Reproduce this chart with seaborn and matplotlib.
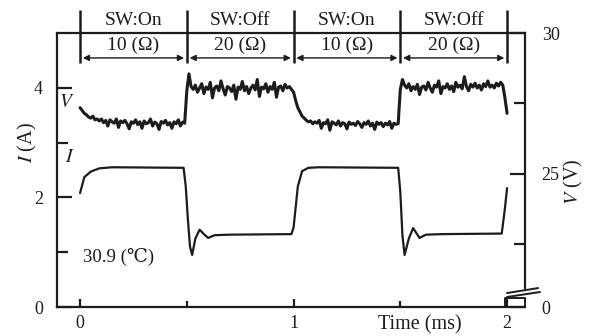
import numpy as np
import pandas as pd
import matplotlib
matplotlib.use('Agg')
import matplotlib.pyplot as plt
import seaborn as sns

# current waveform I (A)
i_time = [0.00, 0.02, 0.05, 0.09, 0.15, 0.485, 0.495, 0.505, 0.515, 0.525,
          0.54, 0.56, 0.58, 0.60, 0.63, 0.70, 0.99, 1.00, 1.02, 1.04, 1.07,
          1.12, 1.49, 1.50, 1.51, 1.52, 1.54, 1.56, 1.58, 1.59, 1.62, 1.70,
          1.975, 1.99, 2.00]
i_amp = [2.08, 2.37, 2.47, 2.53, 2.55, 2.54, 2.20, 1.60, 1.10, 0.95,
         1.25, 1.41, 1.33, 1.26, 1.31, 1.32, 1.33, 1.45, 2.20, 2.48, 2.54,
         2.55, 2.54, 2.10, 1.30, 0.95, 1.25, 1.44, 1.32, 1.26, 1.32, 1.33,
         1.34, 1.80, 2.17]

# voltage waveform V (V), sampled every 0.01 ms
v_time = np.linspace(0, 2, 201)
v_volt = [
    27.35, 27.25, 27.15, 27.10, 27.02, 26.98, 27.05, 26.92, 26.95, 26.88,
    26.95, 26.82, 26.90, 26.70, 26.92, 26.85, 26.80, 26.95, 26.65, 26.88,
    26.82, 26.90, 26.78, 26.60, 26.85, 26.80, 26.92, 26.75, 26.85, 26.62,
    26.88, 26.78, 26.82, 26.95, 26.70, 26.84, 26.78, 26.58, 26.86, 26.80,
    26.90, 26.74, 26.82, 26.62, 26.85, 26.78, 26.92, 26.70, 26.84, 26.80,
    27.95, 28.55, 28.10, 28.00, 28.15, 27.90, 28.05, 28.20, 27.85, 28.08,
    28.00, 28.25, 27.70, 28.05, 28.12, 27.95, 28.30, 28.02, 27.80, 28.10,
    28.05, 27.92, 28.15, 27.65, 28.08, 28.00, 28.28, 27.95, 28.10, 27.85,
    28.05, 28.15, 27.98, 28.35, 27.75, 28.08, 28.02, 28.20, 27.90, 28.10,
    28.00, 28.25, 27.72, 28.08, 28.12, 27.95, 28.18, 28.05, 28.10, 28.00,
    27.90, 27.60, 27.35, 27.20, 27.05, 26.98, 26.90, 26.85, 26.88, 26.78,
    26.85, 26.80, 26.90, 26.62, 26.82, 26.78, 26.92, 26.55, 26.85, 26.80,
    26.74, 26.88, 26.70, 26.82, 26.78, 26.60, 26.84, 26.76, 26.80, 26.72,
    26.86, 26.78, 26.65, 26.82, 26.76, 26.88, 26.70, 26.80, 26.58, 26.84,
    26.76, 26.82, 26.68, 26.80, 26.74, 26.86, 26.62, 26.80, 26.76, 26.78,
    28.00, 28.35, 28.15, 28.05, 28.20, 27.95, 28.10, 28.00, 28.18, 27.82,
    28.08, 28.12, 27.98, 28.25, 28.05, 27.90, 28.15, 28.08, 28.30, 27.85,
    28.10, 28.05, 28.20, 28.00, 28.12, 27.92, 28.25, 28.08, 28.15, 28.02,
    28.45, 28.10, 27.95, 28.18, 28.08, 28.22, 28.05, 28.15, 27.98, 28.20,
    28.10, 28.30, 28.08, 28.15, 28.05, 28.22, 28.12, 28.25, 28.15, 27.70,
    27.15]

# switching segments along the top
seg_bounds = [0.0, 0.5, 1.0, 1.5, 2.0]
seg_switch = ['SW:On', 'SW:Off', 'SW:On', 'SW:Off']
seg_load = ['10 (Ω)', '20 (Ω)', '10 (Ω)', '20 (Ω)']

i_ticks = [0, 2, 4]
v_ticks = [20.28, 25, 30]
v_ticklabels = ['0', '25', '30']

ink = '#1c1c1c'

sns.set_style('ticks')
plt.rcParams['font.family'] = ['Liberation Serif', 'DejaVu Serif', 'DejaVu Sans']
plt.rcParams['mathtext.fontset'] = 'stix'

fig = plt.figure(figsize=(5.89, 3.36), dpi=100)
ax = fig.add_axes([57 / 589, 29 / 336, 468 / 589, 274 / 336])
axv = ax.twinx()

sns.lineplot(x=i_time, y=i_amp, ax=ax, color=ink, lw=1.6)
sns.lineplot(x=v_time, y=v_volt, ax=axv, color=ink, lw=2.2)

ax.set_xlim(-0.108, 2.084)
ax.set_ylim(0, 5)
axv.set_ylim(20.28, 30)

# spines
for s in ['left', 'bottom', 'top']:
    ax.spines[s].set_linewidth(1.6)
    ax.spines[s].set_color(ink)
ax.spines['right'].set_visible(False)
for s in ['left', 'bottom', 'top']:
    axv.spines[s].set_visible(False)
axv.spines['right'].set_linewidth(1.6)
axv.spines['right'].set_color(ink)
axv.spines['right'].set_bounds(20.95, 30)

# ticks
ax.set_xticks([0, 1, 2])
ax.set_xticks([0.5, 1.5], minor=True)
ax.set_yticks(i_ticks)
ax.set_yticks([1, 3], minor=True)
ax.tick_params(axis='both', which='both', direction='in', color=ink, width=1.6,
               labelsize=13, labelcolor=ink)
ax.tick_params(axis='y', which='major', length=11, pad=10)
ax.tick_params(axis='y', which='minor', length=8)
ax.tick_params(axis='x', which='major', length=6, pad=6)
ax.tick_params(axis='x', which='minor', length=4)
ax.tick_params(top=False, which='both')

axv.set_yticks(v_ticks)
axv.set_yticklabels(v_ticklabels)
axv.set_yticks([22.5, 27.5], minor=True)
axv.tick_params(axis='y', which='both', direction='in', color=ink, width=1.6,
                labelsize=13, labelcolor=ink, pad=12)
axv.tick_params(axis='y', which='major', length=11)
axv.tick_params(axis='y', which='minor', length=8)

ax.set_xlabel('')
ax.set_ylabel('')
axv.set_ylabel('')
ax.text(0.775, -0.065, 'Time (ms)', transform=ax.transAxes, ha='center',
        va='center', fontsize=14.5, color=ink)
ax.text(-0.064, 0.6, r'$I$ (A)', transform=ax.transAxes, ha='center',
        va='center', rotation=90, fontsize=14.5, color=ink)
ax.text(1.103, 0.456, r'$V$ (V)', transform=ax.transAxes, ha='center',
        va='center', rotation=90, fontsize=14.5, color=ink)

# trace labels
ax.text(0.021, 0.745, r'$V$', transform=ax.transAxes, fontsize=14,
        ha='center', va='center', color=ink)
ax.text(0.028, 0.547, r'$I$', transform=ax.transAxes, fontsize=14,
        ha='center', va='center', color=ink)
ax.text(0.014, 0.182, '30.9 (℃)', transform=ax.get_xaxis_transform(),
        fontsize=13.5, ha='left', va='center', color=ink)

# switching header
tr = ax.get_xaxis_transform()
ax.vlines(seg_bounds, 0.891, 1.084, transform=tr, colors=ink, lw=1.8, clip_on=False)
for k in range(len(seg_switch)):
    a, b = seg_bounds[k], seg_bounds[k + 1]
    ax.annotate('', xy=(b, 0.909), xytext=(a, 0.909), xycoords=tr, textcoords=tr,
                annotation_clip=False,
                arrowprops=dict(arrowstyle='<|-|>', color=ink, lw=1.0,
                                shrinkA=2, shrinkB=2, mutation_scale=9))
    ax.text((a + b) / 2, 1.047, seg_switch[k], transform=tr, ha='center',
            va='center', fontsize=14, color=ink)
    ax.text((a + b) / 2, 0.956, seg_load[k], transform=tr, ha='center',
            va='center', fontsize=14, color=ink)

# axis break on the right
bt = axv.transAxes
axv.plot([0.9615, 1.028], [0.051, 0.069], color=ink, lw=1.4, transform=bt, clip_on=False)
axv.plot([0.9615, 1.032], [0.0365, 0.0547], color=ink, lw=1.4, transform=bt, clip_on=False)
axv.plot([0.957, 0.957, 1.0, 1.0], [0.0, 0.033, 0.033, 0.0], color=ink, lw=1.4,
         transform=bt, clip_on=False)

fig.savefig('out.png', dpi=100, facecolor='white')
